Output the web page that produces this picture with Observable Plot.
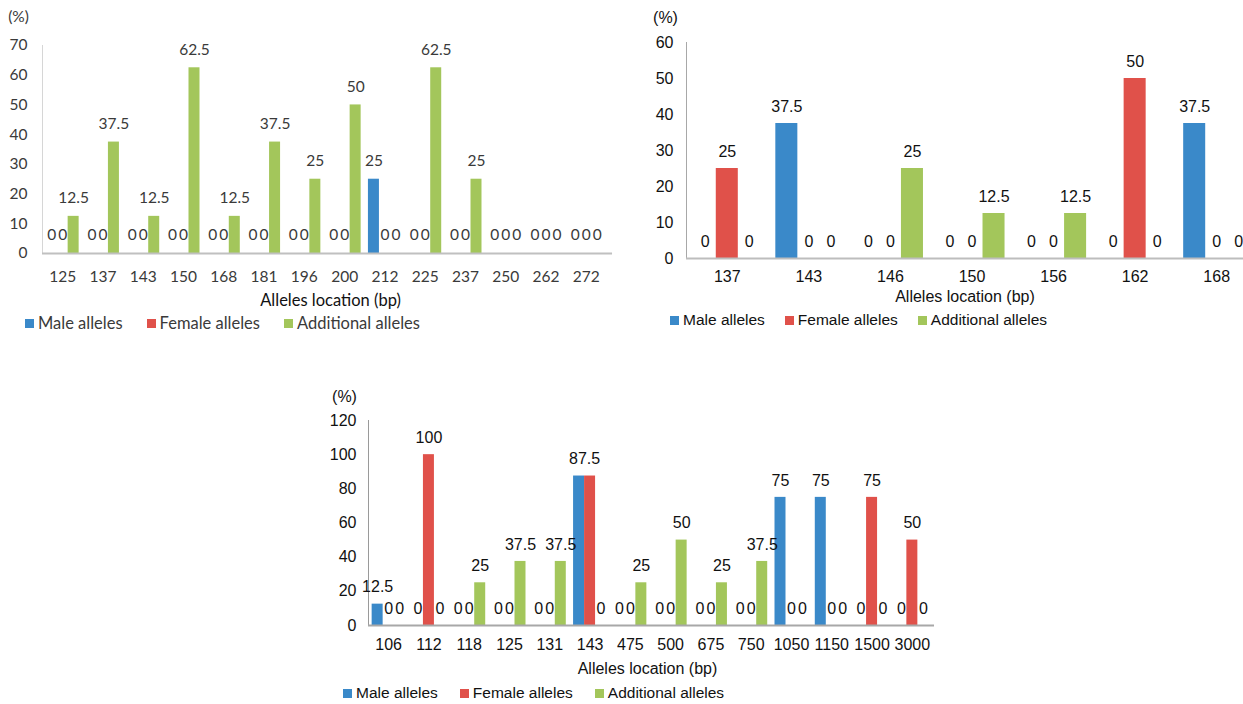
<!DOCTYPE html>
<html>
<head>
<meta charset="utf-8">
<script src="https://cdn.jsdelivr.net/npm/d3@7"></script>
<script src="https://cdn.jsdelivr.net/npm/@observablehq/plot@0.6"></script>
<style>
  html, body { margin: 0; padding: 0; background: #fff; }
  body { width: 1243px; height: 704px; overflow: hidden; position: relative; }
  .panel { position: absolute; }
  .panel svg { max-width: none !important; }
  .legend { position: absolute; display: flex; align-items: center; white-space: nowrap; }
  .legend .item { display: flex; align-items: center; }
  .legend .sw { width: 9px; height: 9px; display: inline-block; margin-right: 4px; }
</style>
</head>
<body>
<script>
// Series shared by all three panels
const seriesNames = ["Male alleles", "Female alleles", "Additional alleles"];
const seriesColors = ["#3a89c9", "#e0514a", "#a3c65b"];

// Panel A
const lociA = ["125", "137", "143", "150", "168", "181", "196", "200", "212", "225", "237", "250", "262", "272"];
const maleA = [0, 0, 0, 0, 0, 0, 0, 0, 25, 0, 0, 0, 0, 0];
const femaleA = [0, 0, 0, 0, 0, 0, 0, 0, 0, 0, 0, 0, 0, 0];
const additionalA = [12.5, 37.5, 12.5, 62.5, 12.5, 37.5, 25, 50, 0, 62.5, 25, 0, 0, 0];
const yTicksA = [0, 10, 20, 30, 40, 50, 60, 70];

// Panel B
const lociB = ["137", "143", "146", "150", "156", "162", "168"];
const maleB = [0, 37.5, 0, 0, 0, 0, 37.5];
const femaleB = [25, 0, 0, 0, 0, 50, 0];
const additionalB = [0, 0, 25, 12.5, 12.5, 0, 0];
const yTicksB = [0, 10, 20, 30, 40, 50, 60];

// Panel C
const lociC = ["106", "112", "118", "125", "131", "143", "475", "500", "675", "750", "1050", "1150", "1500", "3000"];
const maleC = [12.5, 0, 0, 0, 0, 87.5, 0, 0, 0, 0, 75, 75, 0, 0];
const femaleC = [0, 100, 0, 0, 0, 87.5, 0, 0, 0, 0, 0, 0, 75, 50];
const additionalC = [0, 0, 25, 37.5, 37.5, 0, 25, 50, 25, 37.5, 0, 0, 0, 0];
const yTicksC = [0, 20, 40, 60, 80, 100, 120];

const xTitle = "Alleles location (bp)";
const yUnit = "(%)";

// Build grouped bars: each category spans one unit on x, the three series side by side
function buildBars(cats, cols, barFrac) {
  const gap = 1 - 3 * barFrac;
  const bars = [];
  cats.forEach((c, i) => {
    seriesNames.forEach((s, j) => {
      const x1 = i + gap / 2 + j * barFrac;
      bars.push({cat: c, series: s, x1, x2: x1 + barFrac, value: cols[j][i]});
    });
  });
  return bars;
}

// One value label per bar; neighbouring bars with the same non-zero value share one label
function buildLabels(bars) {
  const out = [];
  bars.forEach((b, k) => {
    const prev = k > 0 ? bars[k - 1] : null;
    const last = out[out.length - 1];
    if (prev && prev.cat === b.cat && b.value !== 0 && prev.value === b.value && last) {
      last.x = (last.x1 + b.x2) / 2;
      return;
    }
    out.push({x1: b.x1, x: (b.x1 + b.x2) / 2, value: b.value});
  });
  return out;
}

function drawPanel(cfg) {
  const n = cfg.cats.length;
  const bars = buildBars(cfg.cats, cfg.cols, cfg.barFrac);
  const labels = buildLabels(bars);
  const yMax = cfg.yTicks[cfg.yTicks.length - 1];

  const chart = Plot.plot({
    width: cfg.width,
    height: cfg.height,
    marginLeft: cfg.marginLeft,
    marginRight: cfg.marginRight,
    marginTop: cfg.marginTop,
    marginBottom: cfg.marginBottom,
    style: {fontFamily: cfg.font, fontSize: cfg.fontSize + "px", color: cfg.textColor, background: "transparent", overflow: "visible", maxWidth: "none"},
    x: {domain: [0, n]},
    y: {domain: [0, yMax]},
    color: {domain: seriesNames, range: seriesColors},
    marks: [
      Plot.rectY(bars, {x1: "x1", x2: "x2", y: "value", fill: "series"}),
      Plot.ruleX([0], {y1: 0, y2: yMax, stroke: cfg.yLine, strokeWidth: 1}),
      Plot.ruleY([0], {x1: 0, x2: n + cfg.baseExtend, stroke: cfg.baseLine, strokeWidth: 2}),
      Plot.text(labels, {x: "x", y: "value", text: d => String(d.value), dy: -cfg.labelLift}),
      Plot.axisY({ticks: cfg.yTicks, tickSize: 0, tickPadding: cfg.yPad, label: null}),
      Plot.axisX({ticks: cfg.cats.map((_, i) => i + 0.5), tickFormat: d => cfg.cats[Math.floor(d)], tickSize: 0, tickPadding: cfg.xPad, label: null}),
      Plot.text([yUnit], {frameAnchor: "top-left", lineAnchor: "middle", dx: cfg.unitDx, dy: cfg.unitDy, textAnchor: "middle"}),
      Plot.text([xTitle], {frameAnchor: "bottom", lineAnchor: "middle", dx: cfg.titleDx, dy: cfg.titleDy, fontSize: cfg.titleSize, fill: cfg.titleColor})
    ]
  });

  const wrap = document.createElement("div");
  wrap.className = "panel";
  wrap.style.left = cfg.left + "px";
  wrap.style.top = cfg.top + "px";
  wrap.style.width = cfg.width + "px";
  wrap.appendChild(chart);
  document.body.appendChild(wrap);

  // Swatch legend below the plot
  const legend = document.createElement("div");
  legend.className = "legend";
  legend.style.left = cfg.legendLeft + "px";
  legend.style.top = cfg.legendTop + "px";
  legend.style.fontFamily = cfg.font;
  legend.style.fontSize = cfg.legendSize + "px";
  legend.style.color = cfg.textColor;
  legend.style.gap = cfg.legendGap + "px";
  seriesNames.forEach((s, j) => {
    const item = document.createElement("span");
    item.className = "item";
    const sw = document.createElement("span");
    sw.className = "sw";
    sw.style.background = seriesColors[j];
    item.appendChild(sw);
    item.appendChild(document.createTextNode(s));
    legend.appendChild(item);
  });
  document.body.appendChild(legend);
}

drawPanel({
  cats: lociA, cols: [maleA, femaleA, additionalA], yTicks: yTicksA, barFrac: 0.273,
  left: 0, top: 0, width: 620, height: 310,
  marginLeft: 42, marginRight: 14, marginTop: 45, marginBottom: 57,
  font: "Lato, 'Open Sans', sans-serif", fontSize: 15.5, titleSize: 16.5, textColor: "#3a3a3a", titleColor: "#111",
  yLine: "#d6d6d6", baseLine: "#c0c0c0", baseExtend: 0.15,
  labelLift: 18, yPad: 15, xPad: 17, unitDx: -24, unitDy: -28, titleDx: 6, titleDy: 47,
  legendLeft: 25, legendTop: 313, legendSize: 16.5, legendGap: 24
});

drawPanel({
  cats: lociB, cols: [maleB, femaleB, additionalB], yTicks: yTicksB, barFrac: 0.27,
  left: 630, top: 0, width: 640, height: 310,
  marginLeft: 56, marginRight: 13, marginTop: 42, marginBottom: 52,
  font: "'Liberation Sans', Arial, sans-serif", fontSize: 16, titleSize: 16, textColor: "#111", titleColor: "#111",
  yLine: "#a8a8a8", baseLine: "#bdbdbd", baseExtend: 0.3,
  labelLift: 17, yPad: 13, xPad: 12, unitDx: -21, unitDy: -25, titleDx: -7, titleDy: 38,
  legendLeft: 670, legendTop: 311, legendSize: 15.5, legendGap: 20
});

drawPanel({
  cats: lociC, cols: [maleC, femaleC, additionalC], yTicks: yTicksC, barFrac: 0.273,
  left: 310, top: 380, width: 634, height: 300,
  marginLeft: 58, marginRight: 12, marginTop: 40, marginBottom: 55,
  font: "'Liberation Sans', Arial, sans-serif", fontSize: 16, titleSize: 16, textColor: "#111", titleColor: "#111",
  yLine: "#9a9a9a", baseLine: "#a8a8a8", baseExtend: 0.05,
  labelLift: 17, yPad: 12, xPad: 13, unitDx: -24, unitDy: -24, titleDx: -3, titleDy: 43,
  legendLeft: 343, legendTop: 684, legendSize: 15.5, legendGap: 22
});
</script>
</body>
</html>
